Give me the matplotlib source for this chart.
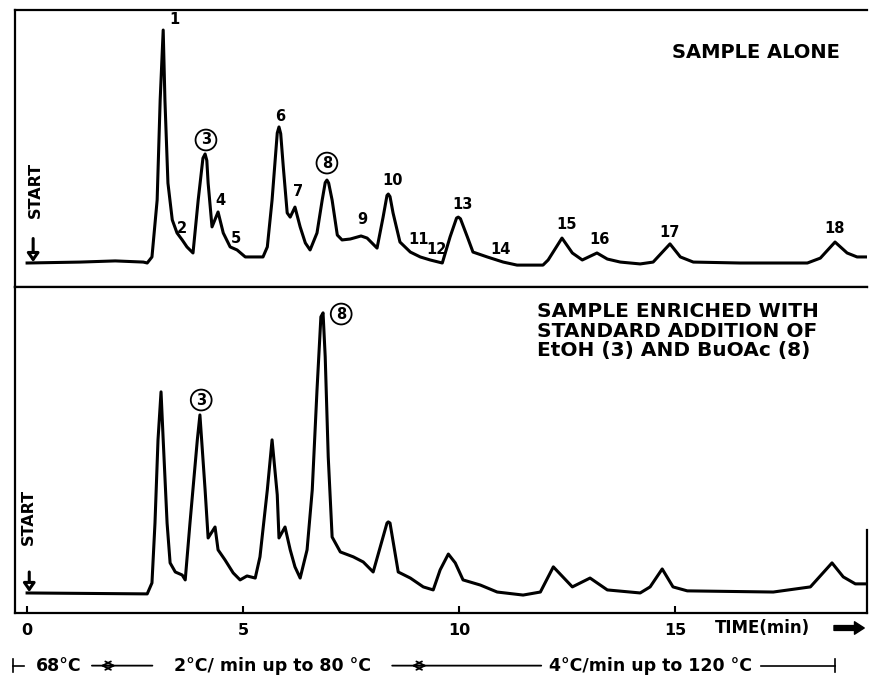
import matplotlib
matplotlib.use("Agg")
import matplotlib.pyplot as plt
from matplotlib.transforms import blended_transform_factory

# ---------------- data ----------------
# time in minutes, detector response in arbitrary units (peak 1 of sample alone = 100)
alone_time = [0.00, 1.23, 2.04, 2.69, 2.78, 2.89, 3.01, 3.08, 3.15, 3.19, 3.26, 3.36, 3.47, 3.59,
              3.70, 3.84, 3.96, 4.07, 4.12, 4.16, 4.19, 4.28, 4.42, 4.54, 4.70, 4.86, 5.05, 5.46,
              5.56, 5.67, 5.79, 5.83, 5.87, 5.93, 6.02, 6.09, 6.20, 6.32, 6.44, 6.55, 6.71, 6.83,
              6.90, 6.94, 6.98, 7.06, 7.18, 7.29, 7.48, 7.73, 7.87, 8.10, 8.24, 8.33, 8.36, 8.40,
              8.47, 8.63, 8.87, 9.10, 9.33, 9.61, 9.79, 9.94, 9.98, 10.03, 10.19, 10.32, 10.65,
              11.02, 11.34, 11.94, 12.06, 12.38, 12.62, 12.85, 13.19, 13.43, 13.73, 14.19, 14.49,
              14.88, 15.12, 15.42, 16.50, 18.06, 18.36, 18.70, 18.98, 19.21, 19.47]
alone_signal = [0.0, 0.4, 0.9, 0.4, 0.0, 2.6, 27.0, 70.0, 100.0, 70.0, 34.3, 18.5, 12.9, 9.9,
                6.9, 4.3, 27.0, 45.0, 46.8, 44.0, 34.3, 15.5, 21.9, 12.9, 6.9, 5.6, 2.6, 2.6,
                6.9, 27.0, 55.8, 58.4, 55.5, 41.2, 21.5, 19.7, 24.0, 15.5, 8.6, 5.6, 12.9, 27.0,
                34.5, 35.6, 34.3, 27.0, 12.0, 9.9, 10.3, 11.6, 10.7, 6.4, 19.7, 29.0, 29.6, 28.5,
                21.5, 9.0, 4.7, 2.6, 1.3, 0.0, 11.2, 19.3, 19.7, 19.0, 11.2, 4.7, 2.6,
                0.4, -0.9, -0.9, 1.3, 10.7, 4.3, 1.3, 4.3, 1.7, 0.4, -0.4, 0.4,
                8.2, 2.6, 0.4, 0.0, 0.0, 2.1, 9.0, 4.3, 2.6, 2.6]

enriched_time = [0.00, 2.78, 2.89, 2.96, 3.03, 3.10, 3.15, 3.24, 3.31, 3.43, 3.59, 3.66, 3.77, 3.94,
                 4.00, 4.12, 4.19, 4.35, 4.42, 4.58, 4.77, 4.93, 5.09, 5.28, 5.39, 5.56, 5.67, 5.79,
                 5.83, 5.97, 6.09, 6.20, 6.32, 6.48, 6.60, 6.71, 6.80, 6.85, 6.90, 6.97, 7.06, 7.25,
                 7.55, 7.78, 8.01, 8.33, 8.36, 8.40, 8.59, 8.87, 9.17, 9.40, 9.56, 9.75, 9.91, 10.09,
                 10.49, 10.88, 11.48, 11.88, 12.18, 12.62, 13.03, 13.43, 14.19, 14.42, 14.70, 14.95,
                 15.28, 17.27, 18.13, 18.63, 18.89, 19.17, 19.44]
enriched_signal = [0.0, -0.4, 4.3, 30.0, 65.7, 86.3, 65.7, 30.0, 12.9, 9.0, 7.7, 5.6, 30.0, 65.7,
                   76.4, 44.2, 23.6, 28.3, 18.5, 14.2, 8.6, 5.6, 7.3, 6.4, 15.5, 44.2, 65.7, 42.1,
                   23.6, 28.3, 18.5, 11.2, 6.4, 18.5, 44.2, 87.1, 118.5, 120.2, 101.3, 58.4, 24.0,
                   17.6, 15.5, 13.3, 9.0, 30.0, 30.5, 30.0, 9.0, 6.4, 2.6, 1.3, 9.9, 16.7, 12.9,
                   5.6, 3.4, 0.4, -0.9, 0.4, 11.2, 2.6, 6.4, 1.3, 0.0, 2.6, 10.3, 2.6,
                   0.9, 0.4, 2.6, 12.9, 6.9, 3.9, 3.9]

# peak labels (label, time, response)
alone_labels = ["1", "2", "3", "4", "5", "6", "7", "8", "9", "10", "11", "12", "13", "14",
                "15", "16", "17", "18"]
alone_label_t = [3.40, 3.59, 4.14, 4.47, 4.84, 5.86, 6.27, 6.94, 7.75, 8.45, 9.05, 9.47, 10.07,
                 10.95, 12.48, 13.26, 14.86, 18.68]
alone_label_s = [104.7, 15.0, 52.8, 27.0, 10.7, 63.0, 30.5, 42.9, 18.5, 35.6, 9.9, 5.6, 25.3,
                 5.6, 16.7, 9.9, 13.3, 15.0]
circled = ["3", "8"]
enriched_labels = ["3", "8"]
enriched_label_t = [4.03, 7.27]
enriched_label_s = [82.8, 119.7]

tick_values = [0, 5, 10, 15]
tick_labels = ["0", "5", "10", "15"]

# ---------------- figure ----------------
fig = plt.figure(figsize=(8.69, 6.82), dpi=100)
L, W = 15 / 869, 852 / 869
ax1 = fig.add_axes([L, 1 - 287 / 682, W, 277 / 682])
ax2 = fig.add_axes([L, 1 - 613 / 682, W, 326 / 682], sharex=ax1)

FONT = "DejaVu Sans"
lw_trace = 2.2
ax1.plot(alone_time, alone_signal, color="black", lw=lw_trace, solid_joinstyle="round")
ax2.plot(enriched_time, enriched_signal, color="black", lw=lw_trace, solid_joinstyle="round")

ax1.set_xlim(-0.28, 19.44)
ax1.set_ylim(-10.3, 108.6)
ax2.set_ylim(-8.6, 131.3)

for ax in (ax1, ax2):
    for sp in ax.spines.values():
        sp.set_linewidth(1.6)
    ax.set_yticks([])
ax1.spines["right"].set_visible(False)
ax2.spines["right"].set_bounds(-8.6, 27)
ax1.tick_params(axis="x", which="both", bottom=False, labelbottom=False)
ax2.set_xticks(tick_values)
ax2.set_xticklabels(tick_labels, fontsize=11.5, fontweight="bold", family=FONT)
ax2.tick_params(axis="x", direction="in", length=5, width=1.5, pad=7)

# peak numbers
for lab, t, s in zip(alone_labels, alone_label_t, alone_label_s):
    if lab in circled:
        ax1.text(t, s, lab, ha="center", va="center", fontsize=10.5, fontweight="bold", family=FONT,
                 bbox=dict(boxstyle="circle,pad=0.2", fc="white", ec="black", lw=1.3))
    else:
        ax1.text(t, s, lab, ha="center", va="center", fontsize=10.5, fontweight="bold", family=FONT)
for lab, t, s in zip(enriched_labels, enriched_label_t, enriched_label_s):
    ax2.text(t, s, lab, ha="center", va="center", fontsize=10.5, fontweight="bold", family=FONT,
             bbox=dict(boxstyle="circle,pad=0.2", fc="white", ec="black", lw=1.3))

# panel titles
ax1.text(0.968, 0.848, "SAMPLE ALONE", transform=ax1.transAxes, ha="right", va="center",
         fontsize=14, fontweight="bold", family=FONT)
ax2.text(0.613, 0.865, "SAMPLE ENRICHED WITH\nSTANDARD ADDITION OF\nEtOH (3) AND BuOAc (8)",
         transform=ax2.transAxes, ha="left", va="center", fontsize=14.5, fontweight="bold",
         family=FONT, linespacing=1.02)

# START markers
ax1.text(0.19, 31.3, "START", rotation=90, ha="center", va="center", fontsize=11.5,
         fontweight="bold", family=FONT)
ax2.text(0.02, 32.6, "START", rotation=90, ha="center", va="center", fontsize=11.5,
         fontweight="bold", family=FONT)
arrow_kw = dict(arrowstyle="-|>,head_width=0.35,head_length=0.5", lw=2.2, fc="white", ec="black",
                shrinkA=0, shrinkB=0)
ax1.annotate("", xy=(0.14, 0.4), xytext=(0.14, 10.5), arrowprops=arrow_kw)
ax2.annotate("", xy=(0.05, 0.4), xytext=(0.05, 9.0), arrowprops=arrow_kw)

# time axis caption
ax2.text(0.822, -0.046, "TIME(min)", transform=ax2.transAxes, ha="left", va="center",
         fontsize=12, fontweight="bold", family=FONT)
ax2.annotate("", xy=(1.0, -0.046), xytext=(0.958, -0.046), xycoords="axes fraction",
             textcoords="axes fraction", annotation_clip=False,
             arrowprops=dict(arrowstyle="simple,head_width=0.9,head_length=0.7,tail_width=0.35",
                             fc="black", ec="black"))

# temperature programme
tr = blended_transform_factory(ax2.transData, fig.transFigure)
yT = 0.024
lkw = dict(color="black", lw=1.2, transform=tr, clip_on=False)
fig.add_artist(plt.Line2D([-0.33, -0.33], [yT - 0.01, yT + 0.01], **lkw))
fig.add_artist(plt.Line2D([-0.33, -0.08], [yT, yT], **lkw))
tkw = dict(transform=tr, ha="center", va="center", fontsize=12.5, fontweight="bold", family=FONT)
fig.text(0.72, yT, "68°C", **tkw)
akw = dict(arrowstyle="->,head_width=0.3,head_length=0.6", lw=1.3, color="black",
           shrinkA=0, shrinkB=0)
ax2.annotate("", xy=(2.05, yT), xytext=(1.5, yT), xycoords=tr, textcoords=tr,
             annotation_clip=False, arrowprops=akw)
ax2.annotate("", xy=(1.7, yT), xytext=(2.9, yT), xycoords=tr, textcoords=tr,
             annotation_clip=False, arrowprops=akw)
fig.text(5.67, yT, "2°C/ min up to 80 °C", **tkw)
ax2.annotate("", xy=(9.25, yT), xytext=(8.45, yT), xycoords=tr, textcoords=tr,
             annotation_clip=False, arrowprops=akw)
ax2.annotate("", xy=(8.9, yT), xytext=(11.9, yT), xycoords=tr, textcoords=tr,
             annotation_clip=False, arrowprops=akw)
fig.text(14.44, yT, "4°C/min up to 120 °C", **tkw)
fig.add_artist(plt.Line2D([16.98, 18.7], [yT, yT], **lkw))
fig.add_artist(plt.Line2D([18.7, 18.7], [yT - 0.01, yT + 0.01], **lkw))

fig.savefig("out.png", dpi=100)
